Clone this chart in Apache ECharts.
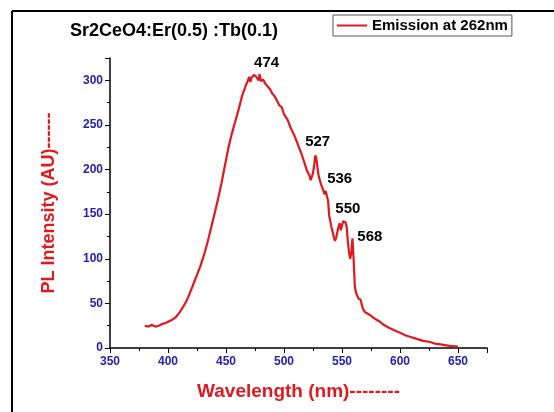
<!DOCTYPE html>
<html>
<head>
<meta charset="utf-8">
<script src="https://cdn.jsdelivr.net/npm/echarts@6/dist/echarts.min.js"></script>
<style>
  html, body { margin: 0; padding: 0; background: #fff; }
  #chart { width: 554px; height: 412px; }
</style>
</head>
<body>
<div id="chart"></div>
<script>
// spectrum
const wavelength = [380, 383, 386, 389, 392, 395, 398, 401, 404, 407, 410, 413, 416, 419, 422, 425, 428, 431, 434, 437,
    440, 443, 446, 449, 452, 455, 458, 461, 464, 467, 469, 470, 471, 472, 474, 476, 478, 479, 480, 482,
    484, 486, 488, 490, 492, 494, 496, 498, 500, 503, 506, 509, 512, 515, 518, 520, 521, 522, 523, 524,
    525, 526, 527, 528, 529, 530, 532, 534, 535, 536, 537, 538, 539, 541, 543, 544, 545, 547, 548, 549,
    550, 551, 553, 554, 555, 556, 557, 558, 559, 560, 561, 562, 564, 566, 568, 570, 574, 578, 582, 586,
    590, 595, 600, 605, 610, 615, 620, 625, 630, 635, 640, 645, 650];
const intensity = [25, 24, 26, 24, 25, 27, 28, 30, 32, 35, 40, 46, 53, 62, 72, 82, 92, 104, 118, 134,
    150, 166, 184, 204, 224, 240, 254, 268, 283, 294, 300, 304, 298, 303, 306, 304, 300, 307, 299, 301,
    296, 293, 290, 285, 282, 277, 272, 270, 262, 256, 246, 238, 228, 218, 206, 198, 200, 193, 188, 192,
    196, 205, 216, 212, 200, 192, 183, 176, 172, 176, 170, 165, 148, 135, 124, 120, 124, 136, 140, 132,
    137, 142, 141, 136, 120, 108, 100, 106, 123, 100, 70, 62, 56, 54, 44, 40, 37, 33, 30, 26,
    23, 20, 17, 14, 12, 10, 8, 7, 5, 4, 3, 2, 1.5];

// peak labels (text, x, y in data units)
const peakNames = ['474', '527', '536', '550', '568'];
const peakX = [485, 529, 548, 555, 574];
const peakY = [320, 231, 189, 156, 124];

(() => {
    const chart = echarts.init(document.getElementById('chart'));
    const blue = '#2222b0';
    const red = '#e0191e';

    const lineData = wavelength.map((w, i) => [w, intensity[i]]);
    const peakData = peakNames.map((n, i) => ({ name: n, value: [peakX[i], peakY[i]] }));

    const option = {
        backgroundColor: '#fff',
        animation: false,
        title: {
            text: 'Sr2CeO4:Er(0.5) :Tb(0.1)',
            left: 169, top: 17, textAlign: 'center',
            textStyle: { fontFamily: 'Liberation Sans', fontSize: 18, fontWeight: 'bold', color: '#000' }
        },
        legend: {
            data: ['Emission at 262nm'],
            left: 333, top: 15,
            padding: [3, 4, 3, 4],
            borderColor: '#555', borderWidth: 1,
            itemWidth: 30, itemHeight: 2, itemGap: 4,
            icon: 'rect',
            textStyle: { fontFamily: 'Liberation Sans', fontSize: 15, fontWeight: 'bold', color: '#000', padding: [0, 0, 0, 0] }
        },
        grid: { left: 110, right: 67, top: 58, bottom: 64 },
        xAxis: {
            type: 'value', min: 350, max: 675, interval: 50,
            name: 'Wavelength (nm)--------', nameLocation: 'middle', nameGap: 34,
            nameTextStyle: { fontFamily: 'Liberation Sans', fontSize: 19, fontWeight: 'bold', color: red },
            axisLine: { lineStyle: { color: '#000', width: 1.5 } },
            axisTick: { length: 5, lineStyle: { color: '#000', width: 1 } },
            minorTick: { show: true, splitNumber: 2, length: 3, lineStyle: { color: '#000' } },
            axisLabel: { showMaxLabel: false, margin: 8, fontFamily: 'Liberation Sans', fontSize: 12, fontWeight: 'bold', color: blue },
            splitLine: { show: false }
        },
        yAxis: {
            type: 'value', min: 0, max: 325, interval: 50,
            name: 'PL Intensity (AU)------', nameLocation: 'middle', nameGap: 52, nameRotate: 90,
            nameTextStyle: { fontFamily: 'Liberation Sans', fontSize: 18, fontWeight: 'bold', color: red },
            axisLine: { show: true, lineStyle: { color: '#000', width: 1.5 } },
            axisTick: { show: true, length: 5, lineStyle: { color: '#000', width: 1 } },
            minorTick: { show: true, splitNumber: 2, length: 3, lineStyle: { color: '#000' } },
            axisLabel: { showMaxLabel: false, margin: 7, fontFamily: 'Liberation Sans', fontSize: 12, fontWeight: 'bold', color: blue },
            splitLine: { show: false }
        },
        series: [
            {
                name: 'Emission at 262nm', type: 'line', data: lineData,
                showSymbol: false, symbol: 'none',
                lineStyle: { color: red, width: 2.2 }, itemStyle: { color: red }
            },
            {
                name: 'peaks', type: 'scatter', data: peakData,
                symbolSize: 0, silent: true,
                itemStyle: { opacity: 1 },
                label: {
                    show: true, position: 'inside', formatter: '{b}',
                    fontFamily: 'Liberation Sans', fontSize: 15, fontWeight: 'bold', color: '#000'
                }
            }
        ],
        graphic: [
            { type: 'line', shape: { x1: 12, y1: 11, x2: 554, y2: 11 }, style: { stroke: '#000', lineWidth: 2 } },
            { type: 'line', shape: { x1: 12, y1: 11, x2: 12, y2: 412 }, style: { stroke: '#000', lineWidth: 2 } }
        ]
    };
    chart.setOption(option);
})();
</script>
</body>
</html>
